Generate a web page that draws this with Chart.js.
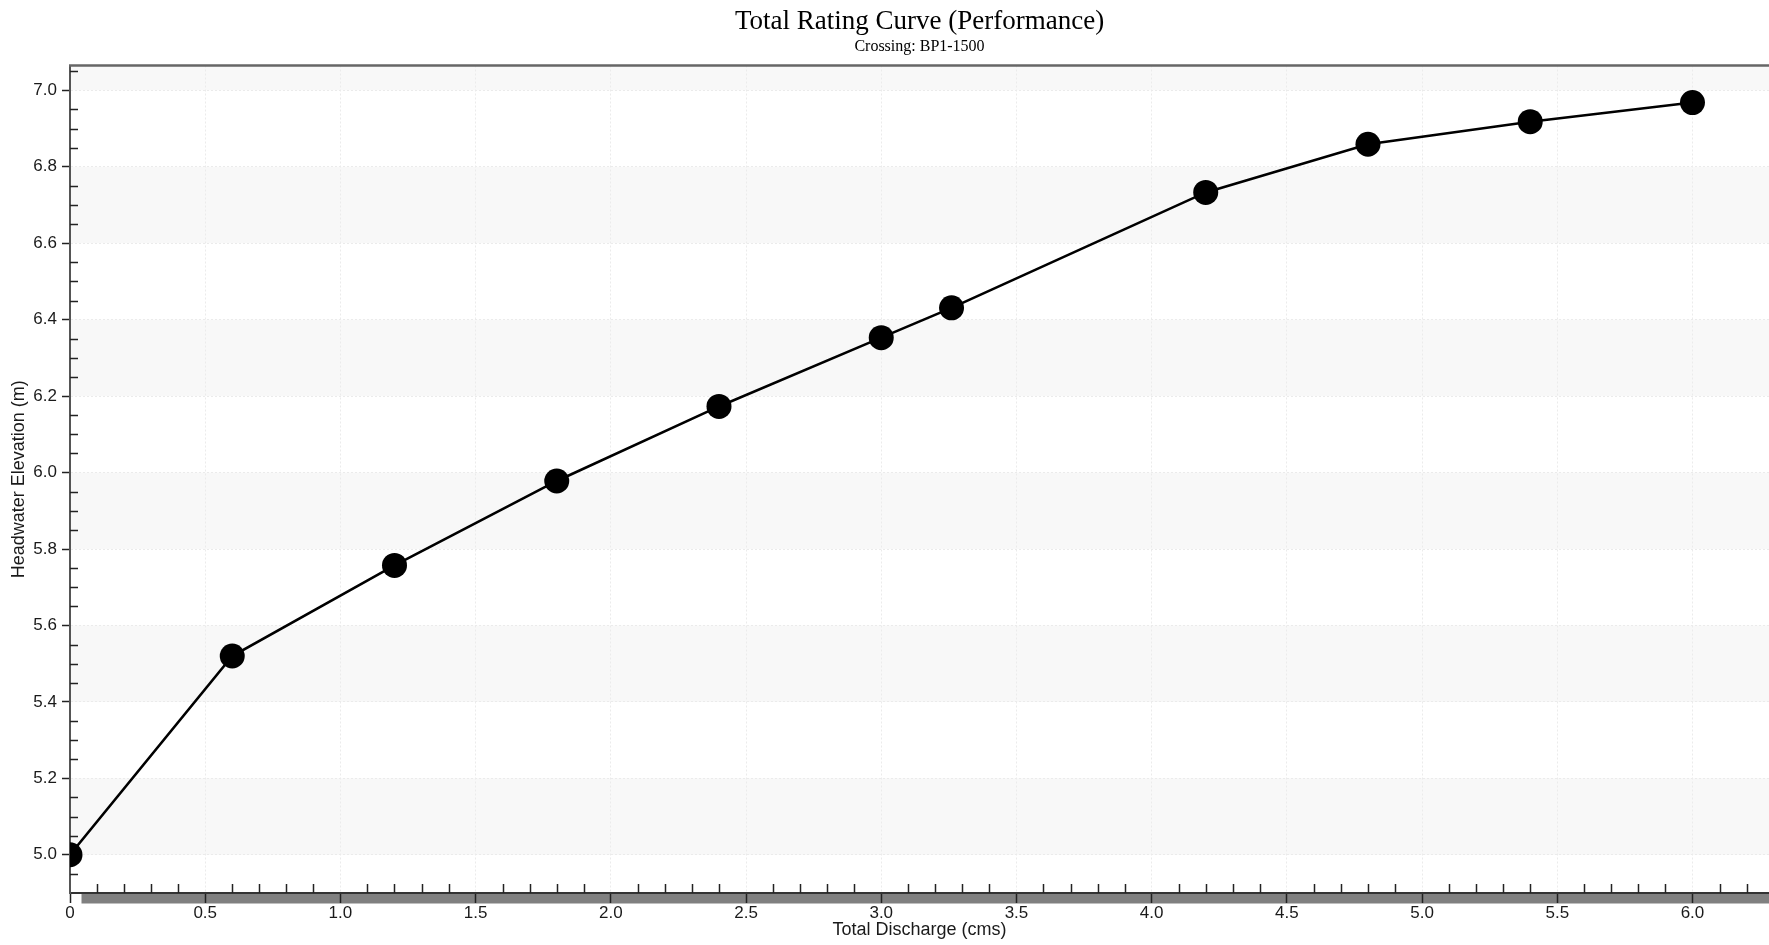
<!DOCTYPE html>
<html><head><meta charset="utf-8">
<script src="https://cdn.jsdelivr.net/npm/chart.js@4"></script>
<style>html,body{margin:0;padding:0;background:#fff;overflow:hidden}</style>
</head><body>
<canvas id="c" width="1769" height="945"></canvas>
<script>
// ---- data ----
const discharge = [0, 0.6, 1.2, 1.8, 2.4, 3.0, 3.26, 4.2, 4.8, 5.4, 6.0];
const headwater = [5.0, 5.52, 5.757, 5.978, 6.173, 6.353, 6.431, 6.733, 6.859, 6.918, 6.968];
const xTickValues = [0, 0.5, 1.0, 1.5, 2.0, 2.5, 3.0, 3.5, 4.0, 4.5, 5.0, 5.5, 6.0];
const yTickValues = [5.0, 5.2, 5.4, 5.6, 5.8, 6.0, 6.2, 6.4, 6.6, 6.8, 7.0];
const bandRanges = [[5.0, 5.2], [5.4, 5.6], [5.8, 6.0], [6.2, 6.4], [6.6, 6.8], [7.0, 7.1]];
const titleText = 'Total Rating Curve (Performance)';
const subtitleText = 'Crossing: BP1-1500';
const xTitle = 'Total Discharge (cms)';
const yTitle = 'Headwater Elevation (m)';

const decor = {
  id: 'decor',
  beforeDraw(chart) {
    const {ctx, chartArea: a, scales: {x, y}} = chart;
    ctx.save();
    ctx.fillStyle = '#f8f8f8';
    bandRanges.forEach(([lo, hi]) => {
      const t = y.getPixelForValue(Math.min(hi, y.max));
      const b = y.getPixelForValue(lo);
      ctx.fillRect(a.left, t, a.right - a.left, b - t);
    });
    ctx.fillStyle = '#808080';
    ctx.fillRect(a.left + 11.5, a.bottom, a.right - a.left - 11.5, 10.5);
    ctx.restore();
  },
  afterDraw(chart) {
    const {ctx, chartArea: a, scales: {x, y}} = chart;
    ctx.save();
    ctx.strokeStyle = '#222';
    ctx.lineWidth = 1.5;
    ctx.beginPath();
    for (let i = 1; i * 0.1 <= x.max; i++) {
      if (i % 5 === 0) continue;
      const px = Math.round(x.getPixelForValue(i / 10)) + 0.5;
      ctx.moveTo(px, a.bottom);
      ctx.lineTo(px, a.bottom - 9);
    }
    for (let j = 99; j * 0.05 <= y.max + 1e-9; j++) {
      if (j % 4 === 0) continue;
      const py = Math.round(y.getPixelForValue(j * 0.05)) + 0.5;
      ctx.moveTo(a.left, py);
      ctx.lineTo(a.left + 8, py);
    }
    ctx.stroke();
    ctx.strokeStyle = '#666';
    ctx.lineWidth = 2.5;
    ctx.beginPath();
    ctx.moveTo(a.left - 1, a.top);
    ctx.lineTo(a.right, a.top);
    ctx.stroke();
    ctx.restore();
  }
};

const font = 'Liberation Sans';
new Chart(document.getElementById('c'), {
  type: 'line',
  data: {
    datasets: [{
      data: discharge.map((v, i) => ({x: v, y: headwater[i]})),
      borderColor: '#000',
      borderWidth: 2.6,
      pointRadius: 12.5,
      pointBackgroundColor: '#000',
      pointBorderWidth: 0,
      tension: 0
    }]
  },
  options: {
    responsive: false,
    animation: false,
    layout: {padding: 0, autoPadding: false},
    plugins: {
      legend: {display: false},
      tooltip: {enabled: false},
      title: {display: true, text: titleText, fullSize: false, color: '#000',
        font: {family: 'Liberation Serif', size: 27, weight: 'normal', lineHeight: 1},
        padding: {top: 8, bottom: 0}},
      subtitle: {display: true, text: subtitleText, fullSize: false, color: '#000',
        font: {family: 'Liberation Serif', size: 16, weight: 'normal', lineHeight: 1},
        padding: {top: 4, bottom: 10.5}}
    },
    scales: {
      x: {
        type: 'linear', min: 0, max: 6.283,
        afterBuildTicks: s => { s.ticks = xTickValues.map(v => ({value: v})); },
        afterFit: s => { s.height = 52; },
        ticks: {callback: v => v === 0 ? '0' : v.toFixed(1), color: '#1a1a1a',
          font: {family: font, size: 17}, padding: 0, maxRotation: 0, autoSkip: false},
        grid: {color: '#ebebeb', lineWidth: 1, tickColor: '#222', tickLength: 10, tickWidth: 1.5, tickBorderDash: []},
        border: {color: '#333', width: 2, dash: [2, 2]},
        title: {display: true, text: xTitle, color: '#1a1a1a', font: {family: font, size: 18},
          padding: {top: 0, bottom: 3.7}}
      },
      y: {
        type: 'linear', min: 4.9, max: 7.065,
        afterBuildTicks: s => { s.ticks = yTickValues.map(v => ({value: v})); },
        afterFit: s => { s.width = 70; },
        ticks: {callback: v => v.toFixed(1), color: '#1a1a1a', font: {family: font, size: 17}, padding: 5},
        grid: {color: '#ebebeb', lineWidth: 1, tickColor: '#222', tickLength: 8, tickWidth: 1.5, tickBorderDash: []},
        border: {color: '#555', width: 2, dash: [2, 2]},
        title: {display: true, text: yTitle, color: '#1a1a1a', font: {family: font, size: 18},
          padding: {top: 8, bottom: 0}}
      }
    }
  },
  plugins: [decor]
});
</script>
</body></html>
